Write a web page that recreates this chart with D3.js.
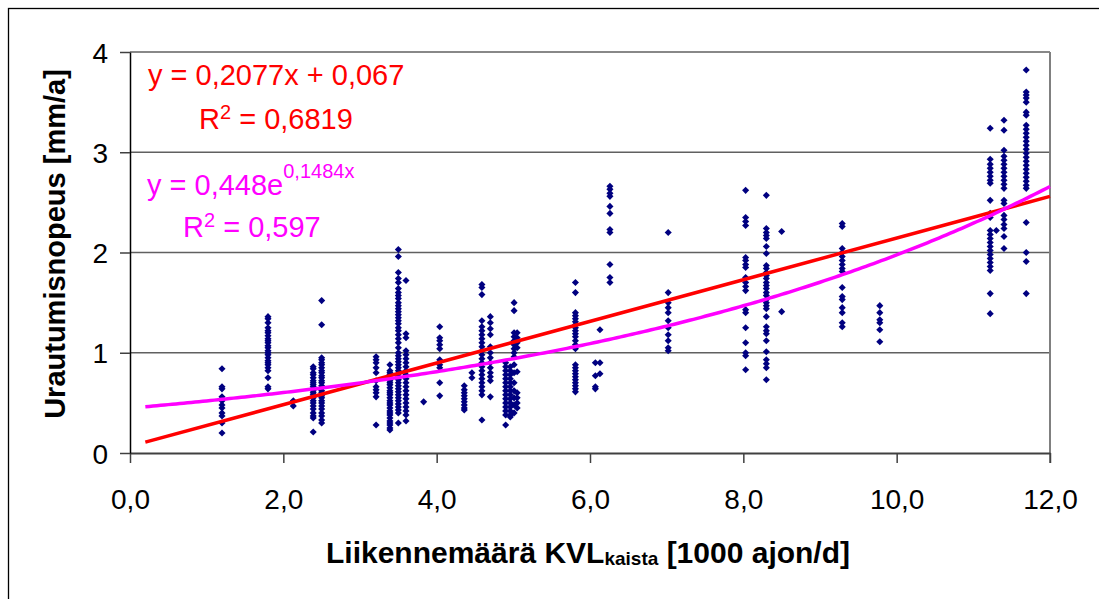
<!DOCTYPE html>
<html>
<head>
<meta charset="utf-8">
<script src="https://cdn.jsdelivr.net/npm/d3@7"></script>
<style>
  body { margin: 0; background: #fff; }
  svg { display: block; font-family: "Liberation Sans", Arial, sans-serif; }
</style>
</head>
<body>
<script>
// x positions of the measured sections (1000 ajon/d per lane)
const clusterX = [1.2, 1.8, 2.13, 2.39, 2.5, 3.21, 3.39, 3.5, 3.6, 3.83, 4.04, 4.36, 4.46,
  4.59, 4.7, 4.9, 4.96, 5.01, 5.05, 5.81, 6.07, 6.13, 6.26, 7.02, 8.03, 8.3, 8.5, 9.29,
  9.78, 11.22, 11.3, 11.4, 11.69];

// rutting rates for each section [mm/a]
const clusterY = [
  [0.84, 0.66, 0.64, 0.56, 0.52, 0.48, 0.45, 0.40, 0.37, 0.30, 0.20],
  [1.36, 1.34, 1.30, 1.25, 1.22, 1.20, 1.17, 1.14, 1.12, 1.10, 1.07, 1.05, 1.02, 1.00, 0.98,
    0.95, 0.92, 0.90, 0.88, 0.85, 0.82, 0.75, 0.66, 0.64],
  [0.52, 0.47],
  [0.86, 0.84, 0.80, 0.78, 0.75, 0.72, 0.70, 0.68, 0.66, 0.64, 0.62, 0.60, 0.58, 0.55, 0.52,
    0.50, 0.47, 0.44, 0.40, 0.37, 0.35, 0.21],
  [1.52, 1.28, 0.95, 0.93, 0.90, 0.88, 0.85, 0.82, 0.80, 0.77, 0.75, 0.72, 0.70, 0.67, 0.65,
    0.62, 0.60, 0.57, 0.55, 0.52, 0.50, 0.47, 0.44, 0.40, 0.37, 0.33, 0.30],
  [0.96, 0.93, 0.90, 0.85, 0.80, 0.72, 0.66, 0.63, 0.60, 0.56, 0.28],
  [0.88, 0.82, 0.80, 0.78, 0.75, 0.72, 0.70, 0.68, 0.65, 0.62, 0.60, 0.58, 0.55, 0.52, 0.50,
    0.48, 0.45, 0.42, 0.40, 0.38, 0.35, 0.32, 0.30, 0.28, 0.25, 0.23],
  [2.03, 1.96, 1.80, 1.74, 1.70, 1.64, 1.60, 1.57, 1.54, 1.50, 1.47, 1.44, 1.41, 1.38, 1.35,
    1.32, 1.29, 1.25, 1.22, 1.18, 1.14, 1.10, 1.05, 1.00, 0.97, 0.94, 0.91, 0.88, 0.85, 0.82,
    0.79, 0.76, 0.73, 0.70, 0.67, 0.64, 0.61, 0.58, 0.55, 0.52, 0.49, 0.46, 0.43, 0.40, 0.30],
  [1.72, 1.19, 1.15, 1.02, 0.98, 0.94, 0.90, 0.86, 0.82, 0.78, 0.74, 0.70, 0.66, 0.62, 0.58,
    0.54, 0.50, 0.46, 0.42, 0.38, 0.32],
  [0.51],
  [1.26, 1.15, 1.12, 1.08, 1.04, 0.93, 0.88, 0.85, 0.70, 0.57],
  [0.67, 0.63, 0.60, 0.57, 0.54, 0.51, 0.48, 0.45, 0.43],
  [0.80, 0.75],
  [1.68, 1.65, 1.58, 1.32, 1.26, 1.22, 1.18, 1.14, 1.10, 1.06, 1.02, 0.98, 0.94, 0.90, 0.86,
    0.82, 0.78, 0.74, 0.70, 0.66, 0.62, 0.58, 0.33],
  [1.36, 1.30, 1.24, 1.18, 1.06, 1.00, 0.95, 0.90, 0.85, 0.80, 0.76, 0.72, 0.56],
  [0.90, 0.86, 0.82, 0.78, 0.74, 0.70, 0.66, 0.62, 0.58, 0.54, 0.50, 0.46, 0.42, 0.38, 0.28],
  [0.86, 0.82, 0.78, 0.74, 0.70, 0.66, 0.62, 0.58, 0.54, 0.50, 0.46, 0.42, 0.38, 0.36],
  [1.50, 1.42, 1.20, 1.16, 1.12, 1.08, 1.04, 1.00, 0.96, 0.88, 0.80, 0.70, 0.62, 0.55, 0.48, 0.40],
  [1.20, 1.15, 1.10, 1.05, 0.81, 0.60, 0.55, 0.50, 0.45],
  [1.70, 1.60, 1.40, 1.37, 1.34, 1.31, 1.28, 1.25, 1.22, 1.19, 1.16, 1.12, 1.08, 1.04, 0.88,
    0.85, 0.82, 0.79, 0.76, 0.73, 0.70, 0.67, 0.64, 0.61],
  [0.90, 0.77, 0.66, 0.64],
  [1.23, 0.90, 0.79],
  [2.66, 2.63, 2.59, 2.56, 2.46, 2.39, 2.23, 2.20, 1.88, 1.75, 1.70],
  [2.20, 1.60, 1.50, 1.45, 1.40, 1.32, 1.25, 1.18, 1.12, 1.05, 1.02],
  [2.62, 2.35, 2.31, 2.27, 1.95, 1.92, 1.88, 1.85, 1.75, 1.70, 1.66, 1.62, 1.43, 1.40, 1.25,
    1.10, 1.00, 0.97, 0.83],
  [2.57, 2.24, 2.20, 2.17, 2.14, 2.06, 1.99, 1.87, 1.84, 1.80, 1.77, 1.74, 1.70, 1.67, 1.64,
    1.60, 1.57, 1.53, 1.50, 1.47, 1.44, 1.36, 1.26, 1.22, 1.19, 1.12, 1.01, 0.93, 0.89, 0.85, 0.73],
  [2.21, 1.41],
  [2.29, 2.26, 2.04, 2.00, 1.96, 1.92, 1.88, 1.84, 1.81, 1.65, 1.56, 1.53, 1.45, 1.40, 1.30, 1.26],
  [1.47, 1.40, 1.33, 1.30, 1.23, 1.11],
  [3.24, 2.93, 2.88, 2.84, 2.80, 2.76, 2.72, 2.69, 2.52, 2.39, 2.35, 2.22, 2.18, 2.14, 2.10,
    2.06, 2.02, 1.98, 1.94, 1.90, 1.86, 1.82, 1.59, 1.39],
  [2.22],
  [3.32, 3.22, 3.02, 2.96, 2.92, 2.88, 2.84, 2.80, 2.76, 2.72, 2.68, 2.64, 2.52, 2.49, 2.37,
    2.33, 2.28, 2.24, 2.16, 2.04],
  [3.82, 3.60, 3.57, 3.54, 3.50, 3.40, 3.37, 3.27, 3.23, 3.19, 3.15, 3.11, 3.07, 3.03, 2.99,
    2.95, 2.91, 2.87, 2.83, 2.79, 2.75, 2.71, 2.67, 2.64, 2.30, 2.00, 1.91, 1.59]
];

// trendlines as printed in the chart
const linearFit = [0.2077, 0.067];   // y = a*x + b
const expFit = [0.448, 0.1484];      // y = a*e^(b*x)
const trendRange = [0.2, 12];

const xTicks = [0, 2, 4, 6, 8, 10, 12];
const yTicks = [0, 1, 2, 3, 4];

const width = 1099;
const height = 599;
const margin = { left: 130, right: 49, top: 52, bottom: 146 };

const svg = d3.select('body').append('svg')
    .attr('width', width)
    .attr('height', height);

// outer chart frame
svg.append('rect')
    .attr('x', 8.5)
    .attr('y', 8.5)
    .attr('width', 1200)
    .attr('height', 700)
    .attr('fill', 'none')
    .attr('stroke', '#000')
    .attr('stroke-width', 1.3);

const x = d3.scaleLinear().domain([0, 12]).range([margin.left, width - margin.right]);
const y = d3.scaleLinear().domain([0, 4]).range([height - margin.bottom, margin.top]);

// gridlines
svg.append('g')
    .selectAll('line')
    .data(yTicks.filter((d) => d > 0))
    .enter()
    .append('line')
    .attr('x1', x(0))
    .attr('x2', x(12))
    .attr('y1', (d) => y(d))
    .attr('y2', (d) => y(d))
    .attr('stroke', '#606060')
    .attr('stroke-width', 1.3);

// right border of the plot area
svg.append('line')
    .attr('x1', x(12))
    .attr('x2', x(12))
    .attr('y1', y(4))
    .attr('y2', y(0) + 10)
    .attr('stroke', '#808080')
    .attr('stroke-width', 2);

// points
const points = [];
clusterX.forEach((cx, i) => {
    clusterY[i].forEach((v) => points.push([cx, v]));
});

const diamond = d3.symbol().type(d3.symbolSquare).size(25);
svg.append('g')
    .selectAll('path')
    .data(points)
    .enter()
    .append('path')
    .attr('d', diamond)
    .attr('transform', (d) => `translate(${x(d[0])},${y(d[1])}) rotate(45)`)
    .attr('fill', '#000080');

// trendlines
const xs = d3.range(trendRange[0], trendRange[1] + 0.001, 0.05);
const line = d3.line().x((d) => x(d[0])).y((d) => y(d[1]));

svg.append('path')
    .datum(trendRange.map((v) => [v, linearFit[0] * v + linearFit[1]]))
    .attr('d', line)
    .attr('fill', 'none')
    .attr('stroke', '#ff0000')
    .attr('stroke-width', 3.5);

svg.append('path')
    .datum(xs.map((v) => [v, expFit[0] * Math.exp(expFit[1] * v)]))
    .attr('d', line)
    .attr('fill', 'none')
    .attr('stroke', '#ff00ff')
    .attr('stroke-width', 3.5);

// axes
const xAxis = svg.append('g')
    .attr('transform', `translate(0,${y(0)})`)
    .call(d3.axisBottom(x)
        .tickValues(xTicks)
        .tickSize(10)
        .tickSizeOuter(0)
        .tickFormat((d) => d.toFixed(1).replace('.', ',')));
xAxis.select('.domain').attr('stroke', '#404040').attr('stroke-width', 2);
xAxis.selectAll('.tick line').attr('stroke', '#404040').attr('stroke-width', 1.5);
xAxis.selectAll('.tick text')
    .attr('y', 56)
    .attr('dy', 0)
    .attr('font-size', 28)
    .attr('fill', '#000');

const yAxis = svg.append('g')
    .attr('transform', `translate(${x(0)},0)`)
    .call(d3.axisLeft(y)
        .tickValues(yTicks)
        .tickSize(10)
        .tickSizeOuter(0)
        .tickFormat(d3.format('d')));
yAxis.select('.domain').attr('stroke', '#000').attr('stroke-width', 1.5);
yAxis.selectAll('.tick line').attr('stroke', '#404040').attr('stroke-width', 1.5);
yAxis.selectAll('.tick text')
    .attr('x', -22)
    .attr('dy', 10)
    .attr('font-size', 28)
    .attr('fill', '#000');

// axis titles
const xTitle = svg.append('text')
    .attr('x', 588)
    .attr('y', 563)
    .attr('text-anchor', 'middle')
    .attr('font-size', 30)
    .attr('font-weight', 'bold');
xTitle.append('tspan').text('Liikennemäärä KVL');
xTitle.append('tspan').attr('font-size', 19).attr('dy', 2).text('kaista');
xTitle.append('tspan').attr('dy', -2).text(' [1000 ajon/d]');

svg.append('text')
    .attr('transform', 'translate(65,244) rotate(-90)')
    .attr('text-anchor', 'middle')
    .attr('font-size', 29)
    .attr('font-weight', 'bold')
    .text('Urautumisnopeus [mm/a]');

// trendline labels
svg.append('text')
    .attr('x', 148)
    .attr('y', 85)
    .attr('font-size', 29)
    .attr('fill', '#ff0000')
    .text('y = 0,2077x + 0,067');

const r1 = svg.append('text')
    .attr('x', 199)
    .attr('y', 129)
    .attr('font-size', 29)
    .attr('fill', '#ff0000');
r1.append('tspan').text('R');
r1.append('tspan').attr('font-size', 20).attr('dy', -10).text('2');
r1.append('tspan').attr('dy', 10).text(' = 0,6819');

const e1 = svg.append('text')
    .attr('x', 147)
    .attr('y', 195)
    .attr('font-size', 29)
    .attr('fill', '#ff00ff');
e1.append('tspan').text('y = 0,448e');
e1.append('tspan').attr('font-size', 20).attr('dy', -17).text('0,1484x');

const r2 = svg.append('text')
    .attr('x', 183)
    .attr('y', 237)
    .attr('font-size', 29)
    .attr('fill', '#ff00ff');
r2.append('tspan').text('R');
r2.append('tspan').attr('font-size', 20).attr('dy', -10).text('2');
r2.append('tspan').attr('dy', 10).text(' = 0,597');
</script>
</body>
</html>
